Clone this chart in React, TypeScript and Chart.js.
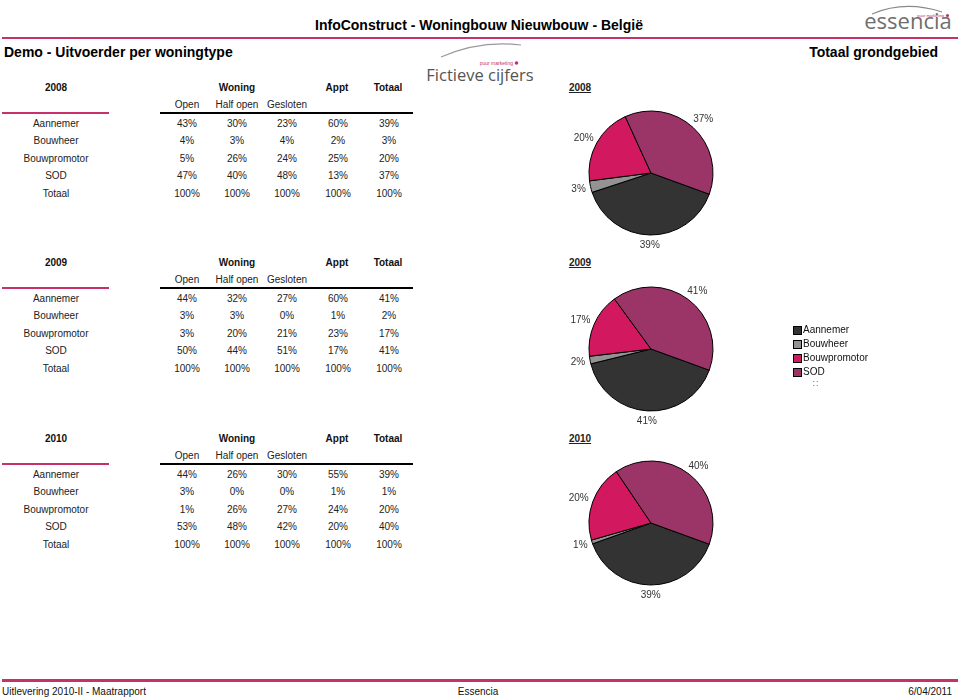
import React, { useEffect, useRef } from "react";
import { Chart, registerables } from "chart.js";
Chart.register(...registerables);

// ---------- data ----------
const categories = ["Aannemer", "Bouwheer", "Bouwpromotor", "SOD"];
const rowLabels = ["Aannemer", "Bouwheer", "Bouwpromotor", "SOD", "Totaal"];
const subColumns = ["Open", "Half open", "Gesloten"];
const years = ["2008", "2009", "2010"];

// columns: Open, Half open, Gesloten, Appt, Totaal
const table2008 = [
  [43, 30, 23, 60, 39],
  [4, 3, 4, 2, 3],
  [5, 26, 24, 25, 20],
  [47, 40, 48, 13, 37],
  [100, 100, 100, 100, 100],
];
const table2009 = [
  [44, 32, 27, 60, 41],
  [3, 3, 0, 1, 2],
  [3, 20, 21, 23, 17],
  [50, 44, 51, 17, 41],
  [100, 100, 100, 100, 100],
];
const table2010 = [
  [44, 26, 30, 55, 39],
  [3, 0, 0, 1, 1],
  [1, 26, 27, 24, 20],
  [53, 48, 42, 20, 40],
  [100, 100, 100, 100, 100],
];
const pie2008 = [39, 3, 20, 37];
const pie2009 = [41, 2, 17, 41];
const pie2010 = [39, 1, 20, 40];

const tables = [table2008, table2009, table2010];
const pies = [pie2008, pie2009, pie2010];

// ---------- styling / layout ----------
const sliceColors = ["#333333", "#939393", "#d2185e", "#9b3467"];
const PINK = "#c8306a";
const FONT = 'Arial, "Liberation Sans", Helvetica, sans-serif';
const tableTops = [88, 263, 439];
const pieCenters = [
  [651, 173],
  [651, 349],
  [651, 523],
];
const colX = [187, 237, 287, 338, 389];
const CANVAS_W = 240;
const CANVAS_H = 190;

function T({ x, y, align = "center", style = {}, children }: any) {
  const tx = align === "center" ? "-50%" : align === "right" ? "-100%" : "0";
  return (
    <div
      style={{
        position: "absolute",
        left: x,
        top: y,
        transform: `translate(${tx},-50%)`,
        whiteSpace: "nowrap",
        lineHeight: "12px",
        fontFamily: FONT,
        fontSize: 10,
        color: "#222222",
        ...style,
      }}
    >
      {children}
    </div>
  );
}

const outsideLabels = {
  id: "outsideLabels",
  afterDatasetsDraw(chart: any) {
    const ctx = chart.ctx;
    const meta = chart.getDatasetMeta(0);
    const data = chart.data.datasets[0].data;
    ctx.save();
    ctx.font = `10px ${FONT}`;
    ctx.fillStyle = "#333333";
    ctx.textAlign = "center";
    ctx.textBaseline = "middle";
    meta.data.forEach((arc: any, i: number) => {
      const { x, y, startAngle, endAngle, outerRadius } = arc.getProps(
        ["x", "y", "startAngle", "endAngle", "outerRadius"],
        true
      );
      const mid = (startAngle + endAngle) / 2;
      const ux = Math.cos(mid);
      const uy = Math.sin(mid);
      const text = data[i] + "%";
      const w = ctx.measureText(text).width;
      const h = 11;
      const ax = x + ux * (outerRadius + 5);
      const ay = y + uy * (outerRadius + 5);
      ctx.fillText(text, ax + (ux * w) / 2, ay + (uy * h) / 2);
    });
    ctx.restore();
  },
};

function Pie({ values, cx, cy }: { values: number[]; cx: number; cy: number }) {
  const ref = useRef<HTMLCanvasElement>(null);
  useEffect(() => {
    if (!ref.current) return;
    const chart = new Chart(ref.current, {
      type: "pie",
      data: {
        labels: categories,
        datasets: [
          {
            data: values,
            backgroundColor: sliceColors,
            borderColor: "#000000",
            borderWidth: 1,
          },
        ],
      },
      options: {
        responsive: false,
        maintainAspectRatio: false,
        animation: false,
        rotation: 110,
        radius: 62,
        layout: { padding: 0 },
        plugins: {
          legend: { display: false },
          tooltip: { enabled: false },
        },
        events: [],
      } as any,
      plugins: [outsideLabels],
    });
    return () => chart.destroy();
  }, [values]);
  return (
    <canvas
      ref={ref}
      width={CANVAS_W}
      height={CANVAS_H}
      style={{
        position: "absolute",
        left: cx - CANVAS_W / 2,
        top: cy - CANVAS_H / 2,
        width: CANVAS_W,
        height: CANVAS_H,
      }}
    />
  );
}

function DataTable({ year, table, top }: { year: string; table: number[][]; top: number }) {
  const bold = { fontWeight: "bold", color: "#111" };
  const items: any[] = [];
  items.push(<T key="yr" x={56} y={top} style={bold}>{year}</T>);
  items.push(<T key="won" x={237} y={top} style={bold}>Woning</T>);
  items.push(<T key="apt" x={337} y={top} style={bold}>Appt</T>);
  items.push(<T key="tot" x={388} y={top} style={bold}>Totaal</T>);
  subColumns.forEach((s, i) =>
    items.push(<T key={"s" + i} x={colX[i]} y={top + 17}>{s}</T>)
  );
  items.push(
    <div key="pl" style={{ position: "absolute", left: 2, top: top + 24, width: 107, height: 2, background: PINK }} />
  );
  items.push(
    <div key="bl" style={{ position: "absolute", left: 160, top: top + 24, width: 253, height: 2, background: "#000" }} />
  );
  rowLabels.forEach((r, ri) => {
    const y = top + 35.5 + ri * 17.5;
    items.push(<T key={"r" + ri} x={56} y={y}>{r}</T>);
    table[ri].forEach((v, ci) =>
      items.push(<T key={"c" + ri + "_" + ci} x={colX[ci]} y={y}>{v + "%"}</T>)
    );
  });
  return <>{items}</>;
}

export default function App() {
  return (
    <div
      style={{
        position: "absolute",
        left: 0,
        top: 0,
        width: 960,
        height: 700,
        background: "#ffffff",
        overflow: "hidden",
        fontFamily: FONT,
      }}
    >
      <svg width={960} height={700} style={{ position: "absolute", left: 0, top: 0 }}>
        <path d="M 872 14 Q 905 0 942 12" stroke="#8a8a8a" strokeWidth={1.2} fill="none" />
        <text x={944} y={17} fontSize={4} fill="#c8306a" textAnchor="end" fontFamily={FONT}>puur marketing</text>
        <circle cx={947.5} cy={15.5} r={1.6} fill="#c8306a" />
        <path d="M 441 57 Q 480 40 521 45" stroke="#9a9a9a" strokeWidth={1.2} fill="none" />
        <text x={513} y={64.5} fontSize={5} fill="#c8306a" textAnchor="end" fontFamily={FONT}>puur marketing</text>
        <circle cx={516.5} cy={63} r={1.8} fill="#c8306a" />
      </svg>

      <T x={908} y={20} style={{ fontFamily: '"Open Sans", sans-serif', fontSize: 22, color: "#6e6e6e", lineHeight: "24px" }}>
        essencia
      </T>
      <T x={480} y={75} style={{ fontFamily: '"Open Sans", sans-serif', fontSize: 16.5, color: "#555555", lineHeight: "20px" }}>
        Fictieve cijfers
      </T>

      <T x={479} y={25} style={{ fontWeight: "bold", fontSize: 14, color: "#000", lineHeight: "16px" }}>
        InfoConstruct - Woningbouw Nieuwbouw - België
      </T>
      <div style={{ position: "absolute", left: 2, top: 37, width: 956, height: 2, background: PINK }} />
      <T x={4} y={52} align="left" style={{ fontWeight: "bold", fontSize: 14, color: "#000", lineHeight: "16px" }}>
        Demo - Uitvoerder per woningtype
      </T>
      <T x={938} y={52} align="right" style={{ fontWeight: "bold", fontSize: 14, color: "#000", lineHeight: "16px" }}>
        Totaal grondgebied
      </T>

      {years.map((y, i) => (
        <DataTable key={y} year={y} table={tables[i]} top={tableTops[i]} />
      ))}

      {years.map((y, i) => (
        <T key={"py" + y} x={580} y={tableTops[i]} style={{ fontWeight: "bold", textDecoration: "underline", color: "#222" }}>
          {y}
        </T>
      ))}

      {pies.map((p, i) => (
        <Pie key={"pie" + i} values={p} cx={pieCenters[i][0]} cy={pieCenters[i][1]} />
      ))}

      {categories.map((c, i) => (
        <React.Fragment key={"lg" + c}>
          <div
            style={{
              position: "absolute",
              left: 793,
              top: 326 + i * 14,
              width: 7,
              height: 7,
              background: sliceColors[i],
              border: "1px solid #000",
            }}
          />
          <T x={803} y={330 + i * 14} align="left" style={{ color: "#111" }}>
            {c}
          </T>
        </React.Fragment>
      ))}
      <T x={816} y={383} style={{ fontSize: 9, color: "#666", letterSpacing: 1 }}>
        ::
      </T>

      <div style={{ position: "absolute", left: 2, top: 679, width: 956, height: 3, background: PINK }} />
      <T x={2} y={692} align="left" style={{ color: "#111" }}>
        Uitlevering 2010-II - Maatrapport
      </T>
      <T x={478} y={692} style={{ color: "#111" }}>
        Essencia
      </T>
      <T x={952} y={692} align="right" style={{ color: "#111" }}>
        6/04/2011
      </T>
    </div>
  );
}
